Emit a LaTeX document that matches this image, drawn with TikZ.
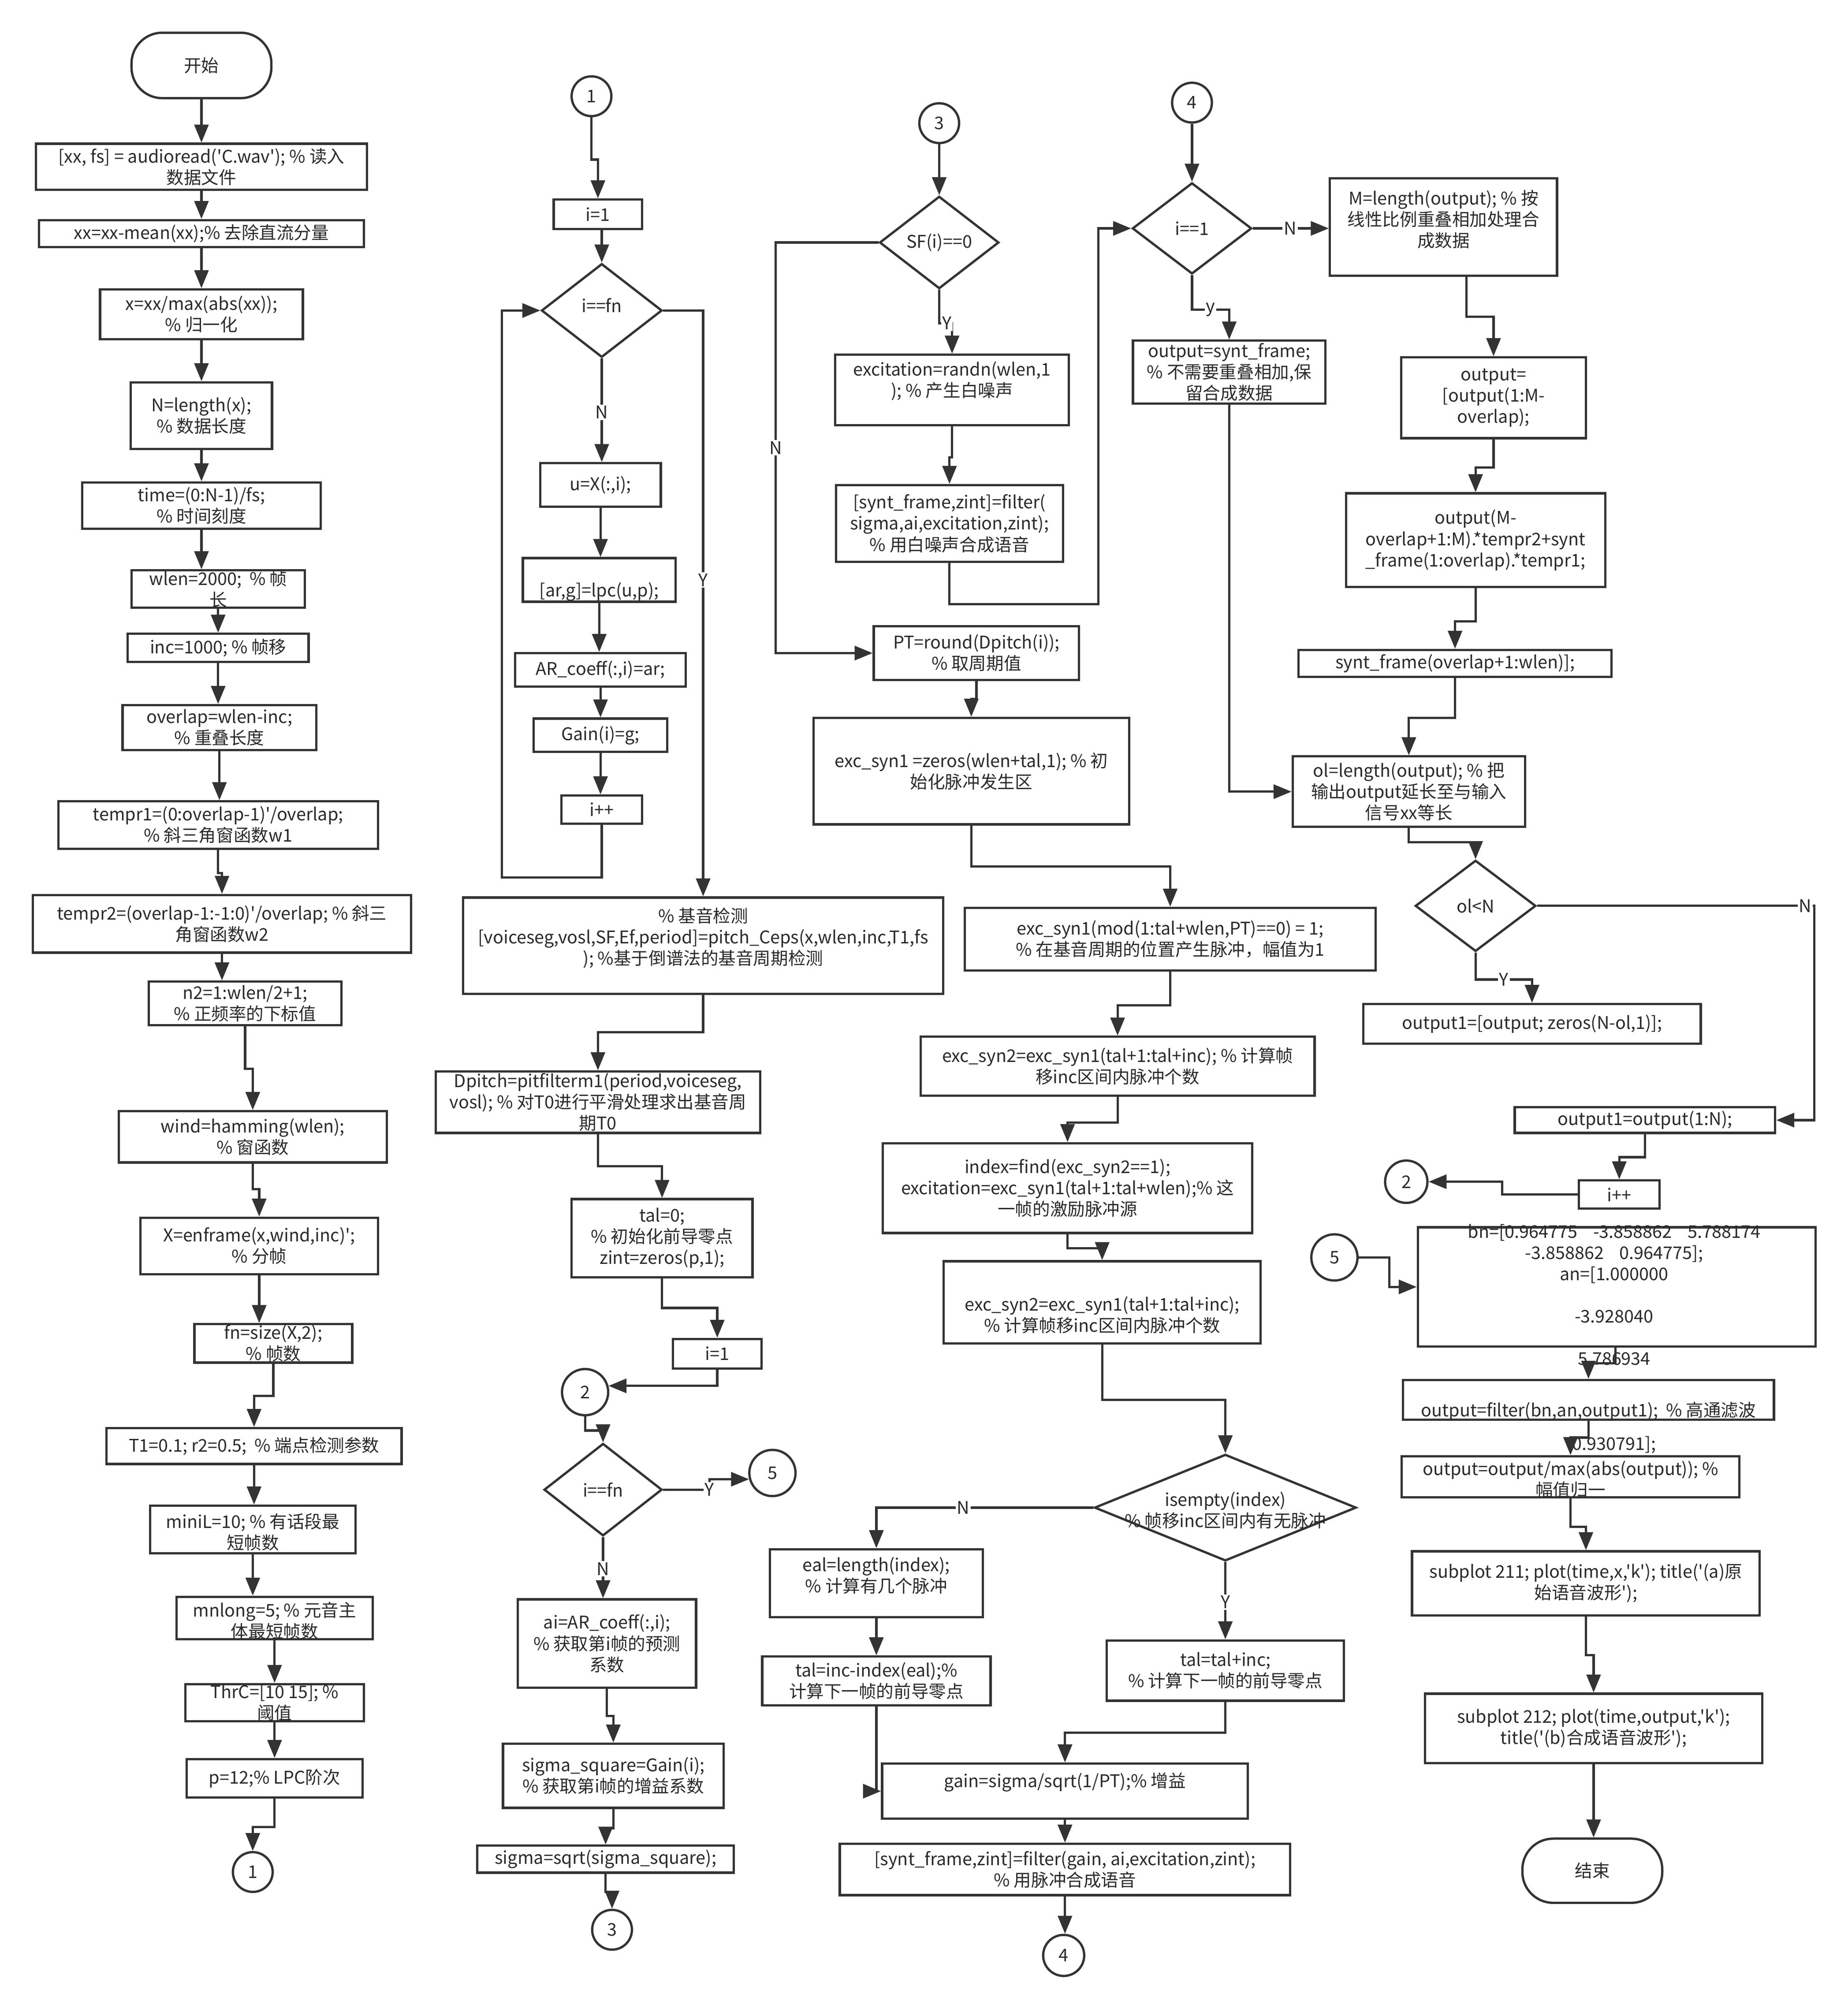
\documentclass[tikz,border=0pt]{standalone}
\usepackage{fontspec}
\newfontfamily\cn{Noto Sans CJK SC}
\usetikzlibrary{arrows.meta,shapes.geometric,calc}
\definecolor{lc}{HTML}{333333}
\definecolor{tc}{HTML}{2A2A2A}
\newcommand\myfs{\fontsize{13.6}{16.5}\selectfont}
\newcommand\mybox[6][0]{%
  \node[box, minimum width=#4, minimum height=#5] (#2) at (#3) {};
  \node[txt] (#2t) at ($(#2)+(0,#1)$) {#6};}
\newcommand\mydec[6][0]{%
  \node[dec, minimum width=#4, minimum height=#5] (#2) at (#3) {};
  \node[txt] (#2t) at ($(#2)+(0,#1)$) {#6};}
\newcommand\mycirc[4]{\node[conn, minimum size=#3] (#1) at (#2) {#4};}
\begin{document}
\begin{tikzpicture}[x=1pt,y=-1pt,
  every node/.style={font=\cn\myfs, text=tc},
  box/.style={draw=lc, line width=1.8pt, fill=white, inner sep=0pt, rectangle},
  txt/.style={inner sep=0pt, align=center},
  term/.style={box, rounded corners=24pt},
  dec/.style={draw=lc, line width=1.8pt, fill=white, diamond, inner sep=0pt},
  conn/.style={draw=lc, line width=1.8pt, fill=white, circle, inner sep=0pt},
  arr/.style={draw=lc, line width=1.8pt, -{Triangle[length=14pt,width=11pt]}},
  lbl/.style={fill=white, inner sep=1pt}
]
\useasboundingbox (0,0) rectangle (1440,1565);
\fill[white] (0,0) rectangle (1440,1565);

% ---------------- column 1 ----------------
\node[term, minimum width=109, minimum height=51] (start) at (157,51) {开始};
\mybox{a1}{157,130}{258}{36}{[xx, fs] = audioread('C.wav'); \% 读入\\数据文件}
\mybox{a2}{157,182}{253}{21}{xx=xx-mean(xx);\% 去除直流分量}
\mybox{a3}{157,245}{158}{39}{x=xx/max(abs(xx));\\\% 归一化}
\mybox{a4}{157,324}{110}{52}{N=length(x);\\\% 数据长度}
\mybox{a5}{157,394}{186}{36}{time=(0:N-1)/fs;\\\% 时间刻度}
\mybox{a6}{170,459}{135}{29}{wlen=2000;\ \ \% 帧\\长}
\mybox{a7}{170,505}{141}{22}{inc=1000; \% 帧移}
\mybox{a8}{171,567}{151}{35}{overlap=wlen-inc;\\\% 重叠长度}
\mybox{a9}{170,643}{249}{37}{tempr1=(0:overlap-1)'/overlap;\\\% 斜三角窗函数w1}
\mybox{a10}{173,720}{295}{45}{tempr2=(overlap-1:-1:0)'/overlap; \% 斜三\\角窗函数w2}
\mybox{a11}{191,782}{150}{34}{n2=1:wlen/2+1;\\\% 正频率的下标值}
\mybox{a12}{197,886}{209}{40}{wind=hamming(wlen);\\\% 窗函数}
\mybox{a13}{202,971}{185}{44}{X=enframe(x,wind,inc)';\\\% 分帧}
\mybox{a14}{213,1047}{123}{30}{fn=size(X,2);\\\% 帧数}
\mybox{a15}{198,1127}{230}{28}{T1=0.1; r2=0.5;\ \ \% 端点检测参数}
\mybox[2]{a16}{197,1192}{160}{37}{miniL=10; \% 有话段最\\短帧数}
\mybox[2]{a17}{214,1261}{153}{33}{mnlong=5; \% 元音主\\体最短帧数}
\mybox{a18}{214,1327}{139}{29}{ThrC=[10 15]; \%\\阈值}
\mybox{a19}{214,1386}{137}{30}{p=12;\% LPC阶次}
\mycirc{c1}{197,1459}{31}{1}

% ---------------- column 2 ----------------
\mycirc{c1b}{461,75}{31}{1}
\mybox{b1}{466,167}{69}{23}{i=1}
\mydec[-4]{d1}{469,242}{94}{73}{i==fn}
\mybox{b2}{468,378}{94}{34}{u=X(:,i);}
\mybox[9]{b3}{467,452}{119}{34}{[ar,g]=lpc(u,p);}
\mybox{b4}{468,522}{133}{26}{AR\_coeff(:,i)=ar;}
\mybox{b5}{468,573}{104}{26}{Gain(i)=g;}
\mybox{b6}{469,631}{63}{22}{i++}
\mybox[-6]{b7}{548,737}{374}{75}{\% 基音检测\\{}[voiceseg,vosl,SF,Ef,period]=pitch\_Ceps(x,wlen,inc,T1,fs\\); \%基于倒谱法的基音周期检测}
\mybox{b8}{466,859}{253}{48}{Dpitch=pitfilterm1(period,voiceseg,\\vosl); \% 对T0进行平滑处理求出基音周\\期T0}
\mybox{b9}{516,965}{141}{61}{tal=0;\\\% 初始化前导零点\\zint=zeros(p,1);}
\mybox{b10}{559,1055}{69}{23}{i=1}
\mycirc{c2}{456,1085}{36}{2}
\mydec{d2}{470,1161}{92}{72}{i==fn}
\mycirc{c5a}{602,1148}{36}{5}
\mybox{b11}{473,1281}{139}{69}{ai=AR\_coeff(:,i);\\\% 获取第i帧的预测\\系数}
\mybox{b12}{478,1384}{172}{50}{sigma\_square=Gain(i);\\\% 获取第i帧的增益系数}
\mybox{b13}{472,1449}{200}{21}{sigma=sqrt(sigma\_square);}
\mycirc{c3b}{477,1504}{31}{3}

% ---------------- column 3 ----------------
\mycirc{c3a}{732,96}{31}{3}
\mydec{d3}{732,189}{93}{72}{SF(i)==0}
\mybox[-7]{b14}{742,304}{182}{55}{excitation=randn(wlen,1\\); \% 产生白噪声}
\mybox{b15}{740,408}{177}{60}{[synt\_frame,zint]=filter(\\sigma,ai,excitation,zint);\\\% 用白噪声合成语音}
\mybox{p1}{761,509}{160}{42}{PT=round(Dpitch(i));\\\% 取周期值}
\mybox{b16}{757,601}{246}{83}{exc\_syn1 =zeros(wlen+tal,1); \% 初\\始化脉冲发生区}
\mybox{b17}{912,732}{320}{49}{exc\_syn1(mod(1:tal+wlen,PT)==0) = 1;\\\% 在基音周期的位置产生脉冲，幅值为1}
\mybox{b18}{871,831}{307}{46}{exc\_syn2=exc\_syn1(tal+1:tal+inc); \% 计算帧\\移inc区间内脉冲个数}
\mybox{b19}{832,926}{288}{70}{index=find(exc\_syn2==1);\\excitation=exc\_syn1(tal+1:tal+wlen);\% 这\\一帧的激励脉冲源}
\mybox[10]{b20}{859,1015}{247}{64}{exc\_syn2=exc\_syn1(tal+1:tal+inc);\\\% 计算帧移inc区间内脉冲个数}
\mydec[2]{d5}{955,1175}{204}{83}{isempty(index)\\\% 帧移inc区间内有无脉冲}
\mybox[-6]{b21}{683,1234}{166}{53}{eal=length(index);\\\% 计算有几个脉冲}
\mybox{b22}{683,1310}{178}{38}{tal=inc-index(eal);\%\\计算下一帧的前导零点}
\mybox[-7]{gain}{830,1396}{285}{43}{gain=sigma/sqrt(1/PT);\% 增益}
\mybox{b24}{955,1302}{185}{47}{tal=tal+inc;\\\% 计算下一帧的前导零点}
\mybox{b25}{830,1457}{351}{40}{[synt\_frame,zint]=filter(gain, ai,excitation,zint);\\\% 用脉冲合成语音}
\mycirc{c4b}{829,1524}{32}{4}

% ---------------- column 4 ----------------
\mycirc{c4a}{929,80}{31}{4}
\mydec{d4}{929,178}{93}{71}{i==1}
\mybox[-6]{b26}{1125,177}{177}{76}{M=length(output); \% 按\\线性比例重叠相加处理合\\成数据}
\mybox{b27}{958,290}{150}{49}{output=synt\_frame;\\\% 不需要重叠相加,保\\留合成数据}
\mybox{b28}{1164,310}{144}{63}{output=\\{}[output(1:M-\\overlap);}
\mybox{b29}{1150,421}{202}{73}{output(M-\\overlap+1:M).*tempr2+synt\\\_frame(1:overlap).*tempr1;}
\mybox{b30}{1134,517}{244}{21}{synt\_frame(overlap+1:wlen)];}
\mybox{b31}{1098,617}{181}{55}{ol=length(output); \% 把\\输出output延长至与输入\\信号xx等长}
\mydec{d6}{1150,706}{94}{71}{ol<N}
\mybox{b32}{1194,798}{263}{31}{output1=[output; zeros(N-ol,1)];}
\mybox{b33}{1282,873}{203}{20}{output1=output(1:N);}
\mybox{b34}{1262,931}{63}{22}{i++}
\mycirc{c2b}{1096,921}{33}{2}
\mycirc{c5b}{1040,980}{36}{5}
\node[box, minimum width=310, minimum height=93] (b35) at (1260,1003) {};
\node[txt, anchor=north] (b35t) at (1258,954) {bn=[0.964775\hspace{0.9em}-3.858862\hspace{0.9em}5.788174\\-3.858862\hspace{0.9em}0.964775];\\an=[1.000000\\\mbox{}\\-3.928040\\\mbox{}\\5.786934\\\mbox{}\\\mbox{}\\\mbox{}\\0.930791];};
\mybox[9]{b36}{1238,1091}{289}{31}{output=filter(bn,an,output1);\ \ \% 高通滤波}
\mybox[2]{b37}{1224,1151}{263}{32}{output=output/max(abs(output)); \%\\幅值归一}
\mybox{b38}{1236,1234}{271}{50}{subplot 211; plot(time,x,'k'); title('(a)原\\始语音波形');}
\mybox{b39}{1242,1347}{263}{54}{subplot 212; plot(time,output,'k');\\title('(b)合成语音波形');}
\node[term, minimum width=109, minimum height=50] (end) at (1241,1458) {结束};

% ---------------- connectors column 1 ----------------
\draw[arr] (start.south) -- (a1.north);
\draw[arr] (a1.south) -- (a2.north);
\draw[arr] (a2.south) -- (a3.north);
\draw[arr] (a3.south) -- (a4.north);
\draw[arr] (a4.south) -- (a5.north);
\draw[arr] (a5.south) -- (a5.south |- a6.north);
\draw[arr] (a6.south) -- (a7.north);
\draw[arr] (a7.south) -- (a7.south |- a8.north);
\draw[arr] (a8.south) -- (a8.south |- a9.north);
\draw[arr] (a9.south) -- ++(0,18) -| (a10.north);
\draw[arr] (a10.south) -- (a10.south |- a11.north);
\draw[arr] (a11.south) -- ++(0,33) -| (a12.north);
\draw[arr] (a12.south) -- ++(0,20) -| (a13.north);
\draw[arr] (a13.south) -- (a13.south |- a14.north);
\draw[arr] (a14.south) -- ++(0,25) -| (a15.north);
\draw[arr] (a15.south) -- (a15.south |- a16.north);
\draw[arr] (a16.south) -- (a16.south |- a17.north);
\draw[arr] (a17.south) -- (a18.north);
\draw[arr] (a18.south) -- (a19.north);
\draw[arr] (a19.south) -- ++(0,22) -| (c1.north);

% ---------------- connectors column 2 ----------------
\draw[arr] (c1b.south) -- ++(0,33) -| (b1.north);
\draw[arr] (b1.south -| d1.north) -- (d1.north);
\draw[arr] (d1.south) -- node[lbl,pos=0.52]{N} (d1.south |- b2.north);
\draw[arr] (b2.south) -- (b2.south |- b3.north);
\draw[arr] (b3.south) -- (b3.south |- b4.north);
\draw[arr] (b4.south) -- (b4.south |- b5.north);
\draw[arr] (b5.south) -- (b5.south |- b6.north);
\draw[arr] (b6.south) -- ++(0,41) -| ($(d1.west)+(-30,0)$) -- (d1.west);
\draw[arr] (d1.east) -| node[lbl,pos=0.73]{Y} (b7.north);
\draw[arr] (b7.south) -- ++(0,29) -| (b8.north);
\draw[arr] (b8.south) -- ++(0,25) -| (b9.north);
\draw[arr] (b9.south) -- ++(0,23) -| (b10.north);
\draw[arr] (b10.south) |- (c2.15);
\draw[arr] (c2.south) -- ++(0,11) -| (d2.north);
\draw[arr] (d2.east) -- ++(36,0) node[lbl]{Y} |- (c5a.195);
\draw[arr] (d2.south) -- node[lbl,pos=0.52]{N} (d2.south |- b11.north);
\draw[arr] (b11.south) -- ++(0,21) -| (b12.north);
\draw[arr] (b12.south) -- ++(0,15) -| (b13.north);
\draw[arr] (b13.south) -- ++(0,14) -| (c3b.north);

% ---------------- connectors column 3 ----------------
\draw[arr] (c3a.south) -- (d3.north);
\draw[arr] (d3.west) -- ++(-80,0) |- node[lbl,pos=0.25]{N} (p1.west);
\draw[arr] (d3.south) -- ++(0,26) node[lbl,xshift=6pt]{Y} -| (b14.north);
\draw[arr] (b14.south) -- ++(0,24) -| (b15.north);
\draw[arr] (b15.south) -- ++(0,32) -- ++(116,0) |- (d4.west);
\draw[arr] (p1.south) -- ++(0,14) -| (b16.north);
\draw[arr] (b16.south) -- ++(0,32) -| (b17.north);
\draw[arr] (b17.south) -- ++(0,26) -| (b18.north);
\draw[arr] (b18.south) -- ++(0,20) -| (b19.north);
\draw[arr] (b19.south) -- ++(0,11) -| (b20.north);
\draw[arr] (b20.south) -- ++(0,43) -| (d5.north);
\draw[arr] (d5.west) -| node[lbl,pos=0.3]{N} (b21.north);
\draw[arr] (b21.south) -- (b22.north);
\draw[arr] (b22.south) |- (gain.west);
\draw[arr] (d5.south) -- node[lbl,pos=0.52]{Y} (b24.north);
\draw[arr] (b24.south) -- ++(0,24) -| (gain.north);
\draw[arr] (gain.south) -- (gain.south |- b25.north);
\draw[arr] (b25.south) -- (b25.south |- c4b.north);

% ---------------- connectors column 4 ----------------
\draw[arr] (c4a.south) -- (d4.north);
\draw[arr] (d4.east) -- node[lbl,pos=0.49]{N} (d4.east -| b26.west);
\draw[arr] (d4.south) -- ++(0,27) -| node[lbl,pos=0.25]{y} (b27.north);
\draw[arr] (b27.south) |- (b31.west);
\draw[arr] ($(b26.south)+(18,0)$) -- ++(0,31) -| (b28.north);
\draw[arr] (b28.south) -- ++(0,22) -| (b29.north);
\draw[arr] (b29.south) -- ++(0,26) -| (b30.north);
\draw[arr] (b30.south) -- ++(0,31) -| (b31.north);
\draw[arr] (b31.south) -- ++(0,11) -| (d6.north);
\draw[arr] (d6.east) -- ++(216,0) node[lbl,xshift=-7pt]{N} |- (b33.east);
\draw[arr] (d6.south) -- ++(0,21) -| node[lbl,pos=0.25]{Y} (b32.north);
\draw[arr] (b33.south) -- ++(0,18) -| (b34.north);
\draw[arr] (b34.west) -- ++(-59,0) |- (c2b.east);
\draw[arr] (c5b.east) -- ++(24,0) |- (b35.west);
\draw[arr] ($(b35.south)+(-1,0)$) -- ++(0,12) -| (b36.north);
\draw[arr] (b36.south) -- ++(0,13) -| (b37.north);
\draw[arr] (b37.south) -- ++(0,22) -| (b38.north);
\draw[arr] (b38.south) -- ++(0,30) -| (b39.north);
\draw[arr] (b39.south) -- (b39.south |- end.north);
\end{tikzpicture}
\end{document}
